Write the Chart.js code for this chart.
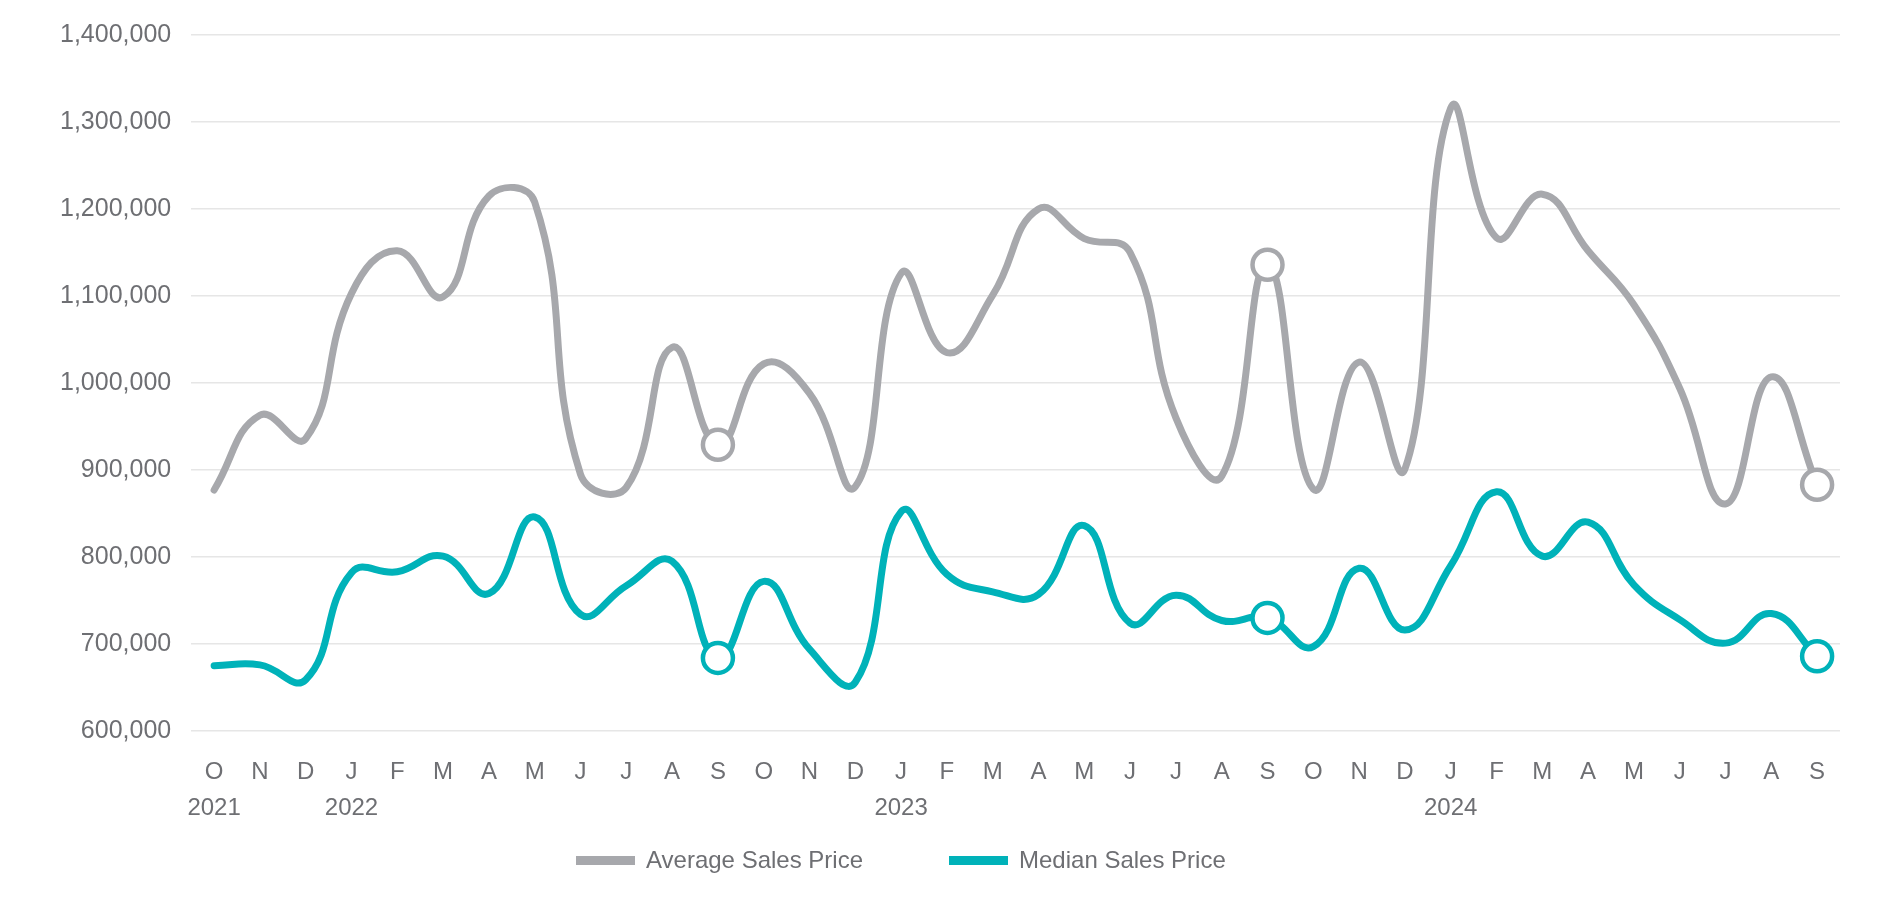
<!DOCTYPE html>
<html>
<head>
<meta charset="utf-8">
<title>Average vs Median Sales Price</title>
<script src="https://cdn.jsdelivr.net/npm/chart.js@4.4.1/dist/chart.umd.min.js"></script>
<style>
  html, body { margin: 0; padding: 0; background: #fff; }
  #wrap { position: relative; width: 1886px; height: 904px; }
  #legend {
    position: absolute; left: 576px; top: 843px; height: 34px;
    display: flex; align-items: center;
    font: 24px "Liberation Sans", Arial, sans-serif; color: #6e6f73;
  }
  .item { display: flex; align-items: center; }
  .item + .item { margin-left: 86px; }
  .swatch { width: 59px; height: 9px; margin-right: 11px; }
</style>
</head>
<body>
<div id="wrap">
  <canvas id="priceChart"></canvas>
  <div id="legend"></div>
</div>
<script>
// Oct 2021 .. Sep 2024
const months = ['O','N','D','J','F','M','A','M','J','J','A','S',
                'O','N','D','J','F','M','A','M','J','J','A','S',
                'O','N','D','J','F','M','A','M','J','J','A','S'];
const yearMarks = { 0: '2021', 3: '2022', 15: '2023', 27: '2024' };

const avgPrice = [877000, 963000, 936000, 1103000, 1152000, 1099000, 1215000, 1208000, 895000, 880000, 1041000, 929000,
                  1022000, 988000, 881000, 1126000, 1035000, 1101000, 1200000, 1166000, 1150000, 960000, 893000, 1136000,
                  878000, 1024000, 901000, 1316000, 1167000, 1217000, 1152000, 1090000, 994000, 861000, 1007000, 883000];

const medianPrice = [675000, 676000, 659000, 782000, 783000, 801000, 758000, 846000, 734000, 767000, 795000, 684000,
                     772000, 694000, 656000, 852000, 780000, 760000, 757000, 836000, 724000, 756000, 727000, 730000,
                     697000, 787000, 716000, 790000, 875000, 801000, 840000, 768000, 728000, 701000, 735000, 686000];

const yTicks = [600000, 700000, 800000, 900000, 1000000, 1100000, 1200000, 1300000, 1400000];

const GRAY = '#a7a8ac';
const TEAL = '#00b2b9';
const TEXT = '#6e6f73';

// circles on each September
const markerRadius = months.map((m, i) => (i % 12 === 11 ? 15 : 0));

const labels = months.map((m, i) => yearMarks[i] ? [m, yearMarks[i]] : m);

const series = [
  { label: 'Average Sales Price', data: avgPrice, color: GRAY },
  { label: 'Median Sales Price',  data: medianPrice, color: TEAL },
];

Chart.defaults.font.family = '"Liberation Sans", Arial, sans-serif';
Chart.defaults.color = TEXT;

new Chart(document.getElementById('priceChart'), {
  type: 'line',
  data: {
    labels,
    datasets: series.map(s => ({
      label: s.label,
      data: s.data,
      borderColor: s.color,
      borderWidth: 7,
      tension: 0.45,
      pointRadius: markerRadius,
      pointHoverRadius: markerRadius,
      pointBackgroundColor: '#fff',
      pointBorderColor: s.color,
      pointBorderWidth: 4.5,
      borderCapStyle: 'round',
    }))
  },
  options: {
    responsive: true,
    maintainAspectRatio: false,
    animation: false,
    layout: { padding: { top: 34, right: 46, bottom: 63, left: 40 } },
    plugins: {
      legend: { display: false },
      tooltip: { enabled: false }
    },
    scales: {
      x: {
        offset: true,
        grid: { display: false },
        border: { display: false },
        ticks: { font: { size: 24, lineHeight: 1.5 }, padding: 15, maxRotation: 0, autoSkip: false }
      },
      y: {
        min: 600000,
        max: 1400000,
        afterBuildTicks: axis => { axis.ticks = yTicks.map(v => ({ value: v })); },
        grid: { color: '#e6e6e6', lineWidth: 1.5, drawTicks: false },
        border: { display: false },
        ticks: {
          font: { size: 25 },
          padding: 20,
          callback: v => v.toLocaleString('en-US')
        }
      }
    }
  }
});

// html legend
const legend = document.getElementById('legend');
series.forEach(s => {
  const item = document.createElement('div');
  item.className = 'item';
  item.innerHTML = '<span class="swatch" style="background:' + s.color + '"></span><span>' + s.label + '</span>';
  legend.appendChild(item);
});
</script>
</body>
</html>
